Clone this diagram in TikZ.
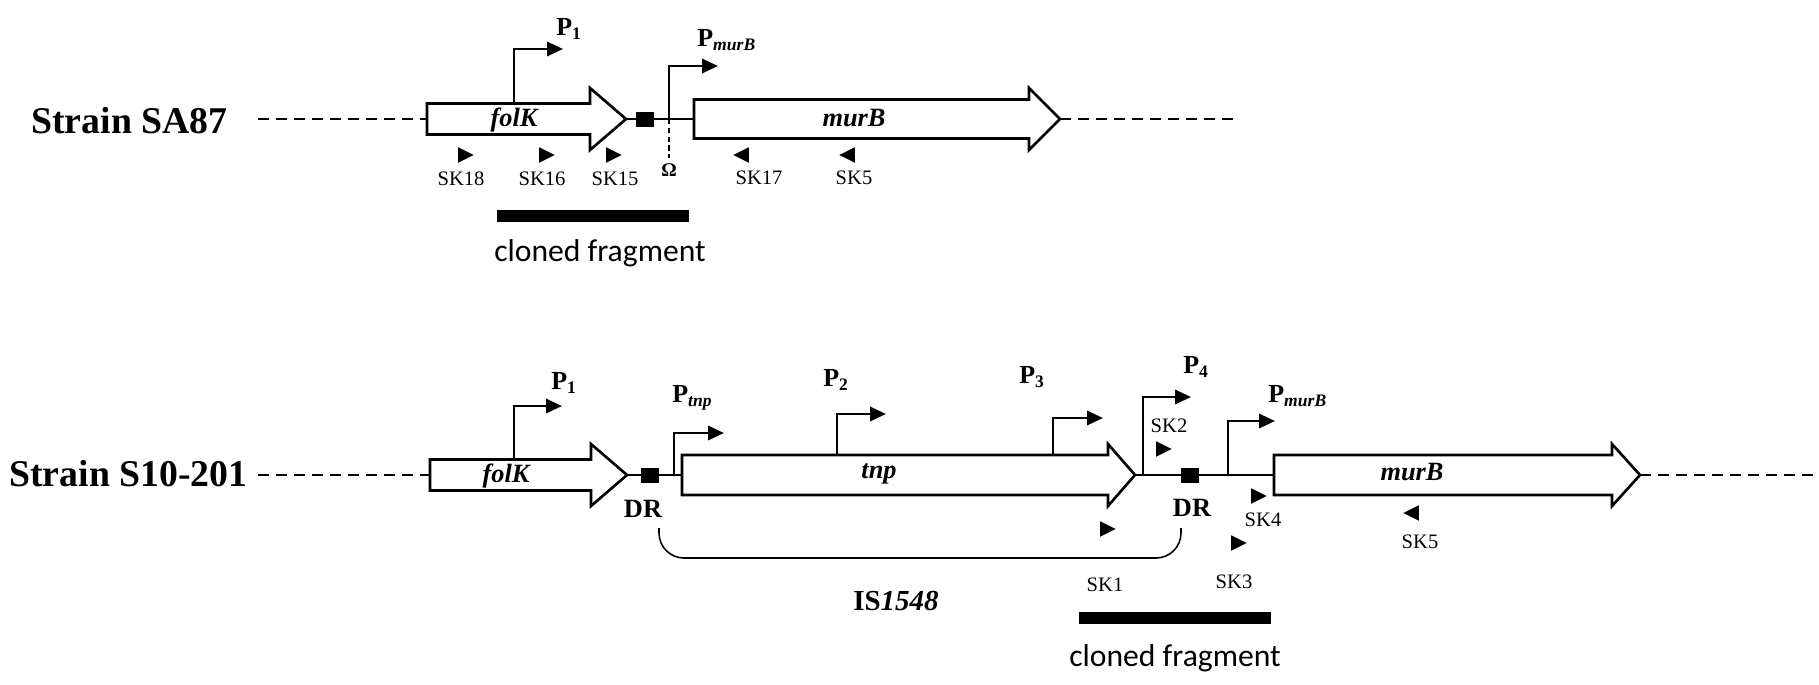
\documentclass[tikz,border=0pt]{standalone}
\usepackage{fontspec}
\setmainfont{Liberation Serif}
\newfontfamily\calibri{Carlito}
\usepackage{tikz}
\usetikzlibrary{arrows.meta,shapes.geometric}
\newcommand{\psub}[1]{\raisebox{-0.35ex}{\fontsize{10}{12}\selectfont #1}}
\newcommand{\geneArrow}[6]{%
  \draw[gene] (#2,#5-#6) -- (#3,#5-#6) -- (#3,#5-31) -- (#4,#5) -- (#3,#5+31) -- (#3,#5+#6) -- (#2,#5+#6) -- cycle;
  \coordinate (#1-l) at (#2,#5);
  \coordinate (#1-r) at (#4,#5);}

\begin{document}
\begin{tikzpicture}[x=0.02cm,y=-0.02cm,
  gene/.style={draw,line width=1.5pt,fill=white},
  dna/.style={line width=1.5pt},
  chrom/.style={line width=1.5pt,dash pattern=on 0.22cm off 0.14cm},
  prom/.style={line width=1.5pt,-{Triangle[length=9pt,width=8pt]}},
  strain/.style={font=\fontsize{21.5}{24}\selectfont\bfseries,inner sep=0,anchor=west},
  gname/.style={font=\fontsize{15}{17}\selectfont\bfseries\itshape,inner sep=0},
  plab/.style={font=\fontsize{14.8}{16}\selectfont\bfseries,inner sep=0,anchor=base west},
  sk/.style={font=\fontsize{11.7}{13}\selectfont,inner sep=0},
  fwd/.style={isosceles triangle,isosceles triangle stretches,fill=black,inner sep=0,minimum width=0.31cm,minimum height=0.31cm},
  rev/.style={fwd,shape border rotate=180},
  dr/.style={fill=black,inner sep=0,minimum width=0.36cm,minimum height=0.3cm},
  drlab/.style={font=\fontsize{15}{17}\selectfont\bfseries,inner sep=0},
  frag/.style={fill=black,inner sep=0,minimum width=3.84cm,minimum height=0.25cm},
  fraglab/.style={font=\calibri\fontsize{18}{20}\selectfont,inner sep=0}]
\useasboundingbox (0,0) rectangle (1819,684);

\node[strain] (sa87) at (31,121) {Strain SA87};
\geneArrow{folKa}{427}{590}{626}{119}{15.5}
\geneArrow{murBa}{694}{1029}{1060}{119}{19.5}
\coordinate (a0) at (258,119);
\coordinate (a9) at (1234,119);
\draw[chrom] (a0) -- (folKa-l);
\draw[chrom] (murBa-r) -- (a9);
\draw[dna] (folKa-r) -- (murBa-l);
\node[dr] (dra) at (645,119) {};
\node[gname] (folKat) at (514,120) {folK};
\node[gname] (murBat) at (854,118) {murB};
\draw[prom] (514,103.5) |- (563,49);
\node[plab] (p1a) at (556,35) {P\psub{1}};
\draw[prom] (669,119) |- (718,66);
\node[plab] (pmurBa) at (697,46) {P\psub{\itshape murB}};
\draw[densely dashed,line width=0.6pt] (669,119) -- (669,158);
\node[font=\fontsize{11}{13}\selectfont\bfseries,inner sep=0] (omega) at (669,170) {Ω};
\node[fwd] (sk18) at (463,155) {};
\node[sk] (sk18t) at (461,179) {SK18};
\node[fwd] (sk16) at (544,155) {};
\node[sk] (sk16t) at (542,179) {SK16};
\node[fwd] (sk15) at (611,155) {};
\node[sk] (sk15t) at (615,179) {SK15};
\node[rev] (sk17) at (744,155) {};
\node[sk] (sk17t) at (759,178) {SK17};
\node[rev] (sk5a) at (850,155) {};
\node[sk] (sk5at) at (854,178) {SK5};
\node[frag] (fraga) at (593,216) {};
\node[fraglab] (fragat) at (600,253) {cloned fragment};

\node[strain] (s10) at (9,474) {Strain S10-201};
\geneArrow{folKb}{430}{591}{627}{475}{15.5}
\geneArrow{tnp}{682}{1108}{1135}{475}{20}
\geneArrow{murBb}{1274}{1612}{1640}{475}{20}
\coordinate (b0) at (258,475);
\coordinate (b9) at (1819,475);
\draw[chrom] (b0) -- (folKb-l);
\draw[chrom] (murBb-r) -- (b9);
\draw[dna] (folKb-r) -- (tnp-l);
\draw[dna] (tnp-r) -- (murBb-l);
\node[dr] (drb) at (650,475) {};
\node[dr] (drc) at (1190,475) {};
\node[drlab] (drbt) at (643,509) {DR};
\node[drlab] (drct) at (1192,508) {DR};
\node[gname] (folKbt) at (506,476) {folK};
\node[gname] (tnpt) at (879,474) {tnp};
\node[gname] (murBbt) at (1412,472) {murB};
\draw[prom] (514,459.5) |- (562,406);
\node[plab] (p1b) at (551,389) {P\psub{1}};
\draw[prom] (674,475) |- (724,433);
\node[plab] (ptnp) at (672,402) {P\psub{\itshape tnp}};
\draw[prom] (837,455) |- (886,414);
\node[plab] (p2) at (823,386) {P\psub{2}};
\draw[prom] (1053,455) |- (1103,418);
\node[plab] (p3) at (1019,383) {P\psub{3}};
\draw[prom] (1143,475) |- (1191,397);
\node[plab] (p4) at (1183,373) {P\psub{4}};
\draw[prom] (1228,475) |- (1275,421);
\node[plab] (pmurBb) at (1268,402) {P\psub{\itshape murB}};
\node[sk] (sk2t) at (1169,426) {SK2};
\node[fwd] (sk2) at (1161,449) {};
\node[fwd] (sk1) at (1105,529) {};
\node[sk] (sk1t) at (1105,585) {SK1};
\node[fwd] (sk4) at (1256,496) {};
\node[sk] (sk4t) at (1263,520) {SK4};
\node[fwd] (sk3) at (1236,543) {};
\node[sk] (sk3t) at (1234,582) {SK3};
\node[rev] (sk5b) at (1414,513) {};
\node[sk] (sk5bt) at (1420,542) {SK5};
\draw[line width=0.9pt,rounded corners=0.5cm] (659,528) -- (659,558) -- (1181,558) -- (1181,528);
\node[font=\fontsize{16.5}{18}\selectfont\bfseries,inner sep=0] (is) at (896,601) {IS\textit{1548}};
\node[frag] (fragb) at (1175,618) {};
\node[fraglab] (fragbt) at (1175,658) {cloned fragment};
\end{tikzpicture}
\end{document}
